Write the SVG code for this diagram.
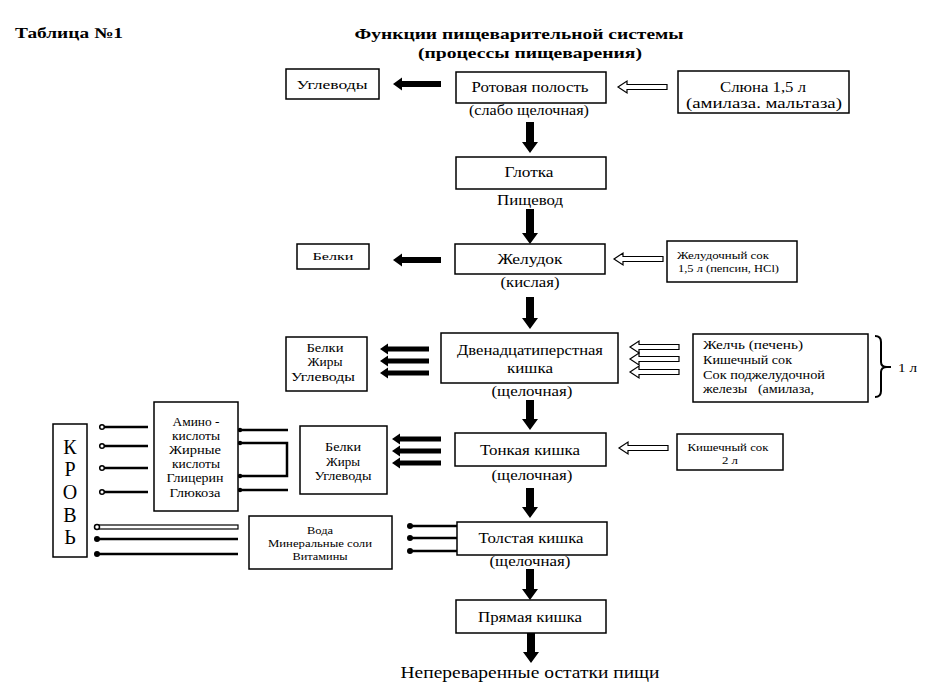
<svg xmlns="http://www.w3.org/2000/svg" width="944" height="693" viewBox="0 0 944 693" font-family="'Liberation Serif', 'Times New Roman', Tinos, 'Noto Serif', 'DejaVu Serif', serif">
<style>
.bg{fill:#fff}
.box{fill:#fff;stroke:#000;stroke-width:1.5}
text{fill:#000}
.c{text-anchor:middle}
.b{font-weight:bold}
.f16{font-size:16px}.f14{font-size:14px}.f13{font-size:13px}.f12{font-size:12px}.f11{font-size:11px}.f20{font-size:20px}
.solid{fill:#000}
.hollow{fill:#fff;stroke:#000;stroke-width:1.2}
.ln{stroke:#000;stroke-width:2.5;fill:none}
.dot{fill:#000}
.ring{fill:#fff;stroke:#000;stroke-width:1.5}
</style>
<defs>
<path id="solidL" d="M0,0 L9,-6.5 L9,-3 L48,-3 L48,3 L9,3 L9,6.5 Z"/>
<path id="solidLs" d="M0,0 L8,-5.5 L8,-2.5 L49,-2.5 L49,2.5 L8,2.5 L8,5.5 Z"/>
<path id="hollowL" d="M0,0 L9,-6 L9,-2.5 L49,-2.5 L49,2.5 L9,2.5 L9,6 Z"/>
</defs>
<rect class="bg" width="944" height="693"/>

<g id="title">
<text class="b" x="15" y="38" font-size="15" textLength="108" lengthAdjust="spacingAndGlyphs">Таблица №1</text>
<text class="b c" x="519" y="39" font-size="15" textLength="329" lengthAdjust="spacingAndGlyphs">Функции пищеварительной системы</text>
<text class="b c" x="530" y="58" font-size="15" textLength="224" lengthAdjust="spacingAndGlyphs">(процессы пищеварения)</text>
</g>

<g id="connectors">
<use href="#solidL" x="393" y="84" class="solid"/>
<use href="#solidL" x="393" y="260" class="solid"/>
<use href="#solidLs" x="380" y="349" class="solid"/>
<use href="#solidLs" x="380" y="361" class="solid"/>
<use href="#solidLs" x="380" y="373" class="solid"/>
<use href="#solidLs" x="392" y="439" class="solid"/>
<use href="#solidLs" x="392" y="451" class="solid"/>
<use href="#solidLs" x="392" y="463" class="solid"/>
<use href="#hollowL" x="618" y="87" class="hollow"/>
<use href="#hollowL" x="614" y="259" class="hollow"/>
<use href="#hollowL" x="630" y="347" class="hollow"/>
<use href="#hollowL" x="630" y="359" class="hollow"/>
<use href="#hollowL" x="630" y="372" class="hollow"/>
<use href="#hollowL" x="619" y="448" class="hollow"/>
<path class="solid" d="M530,153 L522,142 L526,142 L526,122 L534,122 L534,142 L538,142 Z"/>
<path class="solid" d="M530,244 L522,233 L526,233 L526,209 L534,209 L534,233 L538,233 Z"/>
<path class="solid" d="M530,329 L522,318 L526,318 L526,297 L534,297 L534,318 L538,318 Z"/>
<path class="solid" d="M530,430 L522,419 L526,419 L526,400 L534,400 L534,419 L538,419 Z"/>
<path class="solid" d="M530,518 L522,507 L526,507 L526,488 L534,488 L534,507 L538,507 Z"/>
<path class="solid" d="M530,600 L522,589 L526,589 L526,569 L534,569 L534,589 L538,589 Z"/>
<path class="solid" d="M531,663 L523,652 L527,652 L527,633 L535,633 L535,652 L539,652 Z"/>
<line class="ln" x1="457" y1="526" x2="410" y2="526"/>
<line class="ln" x1="457" y1="538" x2="410" y2="538"/>
<line class="ln" x1="457" y1="551" x2="410" y2="551"/>
<circle class="dot" cx="410" cy="526" r="3"/>
<circle class="dot" cx="410" cy="538" r="3"/>
<circle class="dot" cx="410" cy="551" r="3"/>
<line class="ln" x1="288" y1="430" x2="240" y2="430"/>
<polyline class="ln" points="240,443 287,443 287,476 240,476"/>
<line class="ln" x1="288" y1="490" x2="240" y2="490"/>
<circle class="dot" cx="240" cy="430" r="2.2"/>
<circle class="dot" cx="240" cy="443" r="2.2"/>
<circle class="dot" cx="240" cy="476" r="2.2"/>
<circle class="dot" cx="240" cy="490" r="2.2"/>
<line class="ln" x1="148" y1="427" x2="104" y2="427"/>
<line class="ln" x1="148" y1="446" x2="104" y2="446"/>
<line class="ln" x1="148" y1="468" x2="104" y2="468"/>
<line class="ln" x1="148" y1="492" x2="104" y2="492"/>
<circle class="ring" cx="102" cy="427" r="2.3"/>
<circle class="ring" cx="102" cy="446" r="2.3"/>
<circle class="ring" cx="102" cy="468" r="2.3"/>
<circle class="ring" cx="102" cy="492" r="2.3"/>
<rect x="99" y="525" width="139" height="4" fill="#fff" stroke="#000" stroke-width="1.2"/>
<line class="ln" x1="238" y1="539" x2="97" y2="539"/>
<line class="ln" x1="238" y1="554" x2="97" y2="554"/>
<circle class="ring" cx="97" cy="527" r="2.5"/>
<circle class="dot" cx="97" cy="539" r="3"/>
<circle class="dot" cx="97" cy="554" r="3"/>
<path d="M875,336 Q881,336 881,342 L881,362 Q881,367 887,367 Q881,367 881,372 L881,391 Q881,397 875,397" fill="none" stroke="#000" stroke-width="2"/>
<line x1="884" y1="367" x2="891" y2="367" stroke="#000" stroke-width="2"/>
</g>

<g id="n-uglevody1">
<rect class="box" x="286" y="69" width="93" height="30"/>
<text class="c f13" x="332" y="89" textLength="71" lengthAdjust="spacingAndGlyphs">Углеводы</text>
</g>

<g id="n-rot">
<rect class="box" x="456" y="72" width="150" height="31"/>
<text class="c f14" x="530" y="92" textLength="117" lengthAdjust="spacingAndGlyphs">Ротовая полость</text>
<text class="c f14" x="529" y="115" textLength="120" lengthAdjust="spacingAndGlyphs">(слабо щелочная)</text>
</g>

<g id="n-slyuna">
<rect class="box" x="678" y="71" width="171" height="42"/>
<text class="c f14" x="763" y="92" textLength="86" lengthAdjust="spacingAndGlyphs">Слюна 1,5 л</text>
<text class="c f14" x="764" y="108" textLength="156" lengthAdjust="spacingAndGlyphs">(амилаза. мальтаза)</text>
</g>

<g id="n-glotka">
<rect class="box" x="456" y="157" width="150" height="32"/>
<text class="c f14" x="529" y="177" textLength="49" lengthAdjust="spacingAndGlyphs">Глотка</text>
<text class="c f14" x="530" y="205" textLength="66" lengthAdjust="spacingAndGlyphs">Пищевод</text>
</g>

<g id="n-belki1">
<rect class="box" x="297" y="244" width="72" height="25"/>
<text class="c f11" x="333" y="260" textLength="41" lengthAdjust="spacingAndGlyphs">Белки</text>
</g>

<g id="n-zheludok">
<rect class="box" x="455" y="244" width="150" height="30"/>
<text class="c f14" x="530" y="264" textLength="65" lengthAdjust="spacingAndGlyphs">Желудок</text>
<text class="c f14" x="530" y="287" textLength="59" lengthAdjust="spacingAndGlyphs">(кислая)</text>
</g>

<g id="n-zhsok">
<rect class="box" x="667" y="241" width="130" height="41"/>
<text class="f11" x="677" y="259" textLength="92" lengthAdjust="spacingAndGlyphs">Желудочный сок</text>
<text class="f11" x="678" y="272" textLength="101" lengthAdjust="spacingAndGlyphs">1,5 л (пепсин, HCl)</text>
</g>

<g id="n-dvenad">
<rect class="box" x="441" y="333" width="177" height="50"/>
<text class="c f14" x="530" y="355" textLength="146" lengthAdjust="spacingAndGlyphs">Двенадцатиперстная</text>
<text class="c f14" x="530" y="373" textLength="46" lengthAdjust="spacingAndGlyphs">кишка</text>
<text class="c f14" x="532" y="396" textLength="81" lengthAdjust="spacingAndGlyphs">(щелочная)</text>
</g>

<g id="n-bzhu1">
<rect class="box" x="286" y="337" width="81" height="54"/>
<text class="c f12" x="325" y="352" textLength="37" lengthAdjust="spacingAndGlyphs">Белки</text>
<text class="c f12" x="325" y="366" textLength="35" lengthAdjust="spacingAndGlyphs">Жиры</text>
<text class="c f12" x="323" y="381" textLength="64" lengthAdjust="spacingAndGlyphs">Углеводы</text>
</g>

<g id="n-zhelch">
<rect class="box" x="693" y="334" width="175" height="68"/>
<text class="f12" x="703" y="349" textLength="100" lengthAdjust="spacingAndGlyphs">Желчь (печень)</text>
<text class="f12" x="703" y="364" textLength="89" lengthAdjust="spacingAndGlyphs">Кишечный сок</text>
<text class="f12" x="703" y="379" textLength="122" lengthAdjust="spacingAndGlyphs">Сок поджелудочной</text>
<text class="f12" x="703" y="393" textLength="111" lengthAdjust="spacingAndGlyphs" xml:space="preserve">железы   (амилаза,</text>
<text class="f13" x="898" y="372" textLength="19" lengthAdjust="spacingAndGlyphs">1 л</text>
</g>

<g id="n-kishsok">
<rect class="box" x="677" y="434" width="106" height="36"/>
<text class="c f11" x="728" y="451" textLength="81" lengthAdjust="spacingAndGlyphs">Кишечный сок</text>
<text class="c f11" x="730" y="464" textLength="16" lengthAdjust="spacingAndGlyphs">2 л</text>
</g>

<g id="n-tonkaya">
<rect class="box" x="455" y="433" width="151" height="33"/>
<text class="c f14" x="530" y="455" textLength="100" lengthAdjust="spacingAndGlyphs">Тонкая кишка</text>
<text class="c f14" x="532" y="480" textLength="81" lengthAdjust="spacingAndGlyphs">(щелочная)</text>
</g>

<g id="n-bzhu2">
<rect class="box" x="300" y="426" width="87" height="68"/>
<text class="c f12" x="343" y="451" textLength="36" lengthAdjust="spacingAndGlyphs">Белки</text>
<text class="c f12" x="343" y="466" textLength="34" lengthAdjust="spacingAndGlyphs">Жиры</text>
<text class="c f12" x="343" y="480" textLength="57" lengthAdjust="spacingAndGlyphs">Углеводы</text>
</g>

<g id="n-amino">
<rect class="box" x="154" y="402" width="84" height="109"/>
<text class="c f12" x="196" y="426" textLength="47" lengthAdjust="spacingAndGlyphs">Амино -</text>
<text class="c f12" x="196" y="440" textLength="48" lengthAdjust="spacingAndGlyphs">кислоты</text>
<text class="c f12" x="195" y="454" textLength="52" lengthAdjust="spacingAndGlyphs">Жирные</text>
<text class="c f12" x="196" y="468" textLength="48" lengthAdjust="spacingAndGlyphs">кислоты</text>
<text class="c f12" x="195" y="482" textLength="57" lengthAdjust="spacingAndGlyphs">Глицерин</text>
<text class="c f12" x="195" y="497" textLength="51" lengthAdjust="spacingAndGlyphs">Глюкоза</text>
</g>

<g id="n-krov">
<rect class="box" x="53" y="424" width="34" height="133"/>
<text class="c f20" x="70" y="454">К</text>
<text class="c f20" x="70" y="476">Р</text>
<text class="c f20" x="70" y="499">О</text>
<text class="c f20" x="70" y="522">В</text>
<text class="c f20" x="70" y="544">Ь</text>
</g>

<g id="n-voda">
<rect class="box" x="249" y="516" width="143" height="53"/>
<text class="c f11" x="320" y="534" textLength="26" lengthAdjust="spacingAndGlyphs">Вода</text>
<text class="c f11" x="320" y="547" textLength="104" lengthAdjust="spacingAndGlyphs">Минеральные соли</text>
<text class="c f11" x="320" y="560" textLength="55" lengthAdjust="spacingAndGlyphs">Витамины</text>
</g>

<g id="n-tolstaya">
<rect class="box" x="457" y="522" width="150" height="33"/>
<text class="c f14" x="531" y="543" textLength="105" lengthAdjust="spacingAndGlyphs">Толстая кишка</text>
<text class="c f14" x="530" y="566" textLength="81" lengthAdjust="spacingAndGlyphs">(щелочная)</text>
</g>

<g id="n-pryamaya">
<rect class="box" x="456" y="600" width="150" height="33"/>
<text class="c f14" x="530" y="622" textLength="104" lengthAdjust="spacingAndGlyphs">Прямая кишка</text>
</g>

<g id="n-ostatki">
<text class="c f16" x="530" y="678" textLength="259" lengthAdjust="spacingAndGlyphs">Непереваренные остатки пищи</text>
</g>
</svg>
